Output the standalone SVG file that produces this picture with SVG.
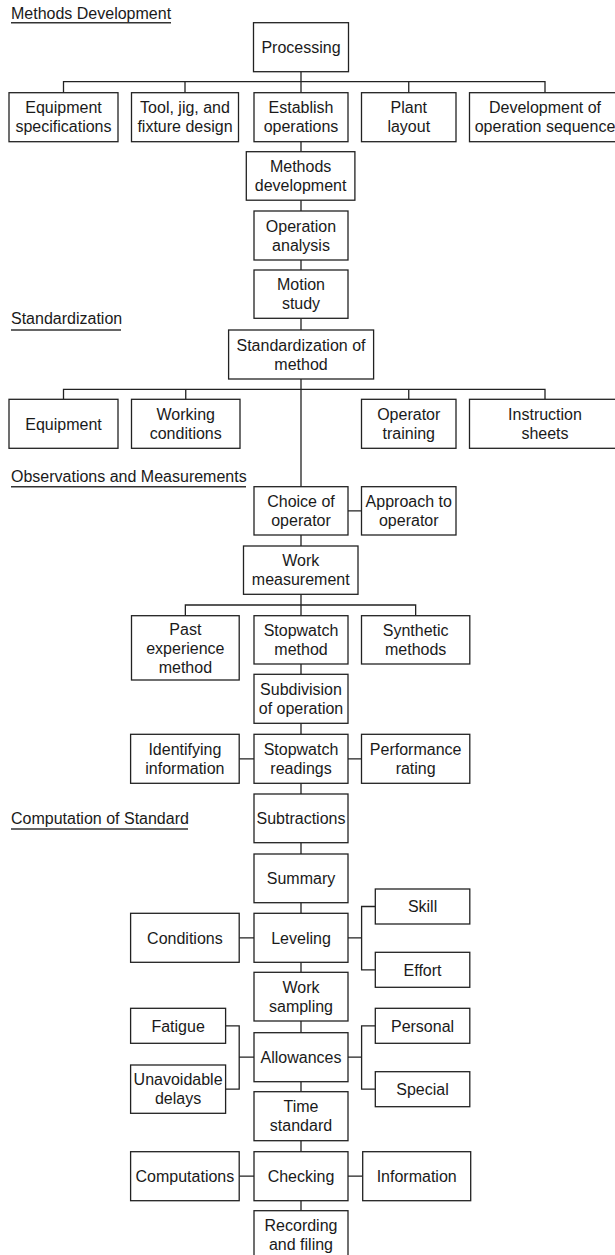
<svg xmlns="http://www.w3.org/2000/svg" width="615" height="1255" viewBox="0 0 615 1255">
<style>
.b{fill:#fff;stroke:#222;stroke-width:1.3}
.c{fill:none;stroke:#222;stroke-width:1.3}
.u{stroke:#333;stroke-width:1.4}
text{font-family:"Liberation Sans",Arial,Helvetica,sans-serif;font-size:16px;fill:#1a1a1a}
.t{text-anchor:middle}
</style>
<rect width="615" height="1255" fill="#fff"/>
<g id="section-titles">
<text x="11" y="19">Methods Development</text>
<line class="u" x1="11" y1="22.7" x2="171" y2="22.7"/>
<text x="11" y="324">Standardization</text>
<line class="u" x1="11" y1="330" x2="121" y2="330"/>
<text x="11" y="482">Observations and Measurements</text>
<line class="u" x1="11" y1="486.7" x2="246" y2="486.7"/>
<text x="11" y="824.3">Computation of Standard</text>
<line class="u" x1="11" y1="829" x2="188" y2="829"/>
</g>
<g id="connectors">
<path class="c" d="M301 71.7V92.7M63.5 92.7V81.7H545V92.7M185 81.7V92.7M408.75 81.7V92.7"/>
<path class="c" d="M301 141.7V151.7M301 200.2V211M301 260V270M301 318.3V330"/>
<path class="c" d="M301 379V486.7M63.5 399.3V389.3H545V399.3M185.75 389.3V399.3M408.75 389.3V399.3"/>
<path class="c" d="M348 510.8H361.5M301 535V546M301 594.3V615.7M185.35 615.7V605H415.65V615.7"/>
<path class="c" d="M301 664V674.3M301 723.3V734.3M239.2 758.8H254M348 758.8H361.5"/>
<path class="c" d="M301 783.3V794M301 842.7V854M301 902.7V913.3"/>
<path class="c" d="M239.2 937.8H254M348 937.8H361.6M375.3 906.5H361.6V969.8H375.3"/>
<path class="c" d="M301 962.3V972.3M301 1021V1032.7"/>
<path class="c" d="M225.6 1025.8H239.2V1089.2H225.6M239.2 1057.2H254M348 1057.2H361.6M375.3 1025.8H361.6V1089.2H375.3"/>
<path class="c" d="M301 1081.7V1091.7M301 1140.7V1151.7M239.2 1176.2H254M348 1176.2H362.7M301 1200.7V1210.7"/>
</g>
<g id="processing"><rect class="b" x="253.5" y="22.7" width="95" height="49"/><text class="t" x="301" y="53">Processing</text></g>
<g id="equipment-specifications"><rect class="b" x="9" y="92.7" width="109" height="49"/><text class="t" x="63.5" y="113.4">Equipment<tspan x="63.5" y="132.4">specifications</tspan></text></g>
<g id="tool-jig-fixture"><rect class="b" x="131.5" y="92.7" width="107" height="49"/><text class="t" x="185" y="113.4">Tool, jig, and<tspan x="185" y="132.4">fixture design</tspan></text></g>
<g id="establish-operations"><rect class="b" x="254" y="92.7" width="94" height="49"/><text class="t" x="301" y="113.4">Establish<tspan x="301" y="132.4">operations</tspan></text></g>
<g id="plant-layout"><rect class="b" x="361.5" y="92.7" width="94.5" height="49"/><text class="t" x="408.75" y="113.4">Plant<tspan x="408.75" y="132.4">layout</tspan></text></g>
<g id="development-operation-sequence"><rect class="b" x="469.5" y="92.7" width="151" height="49"/><text class="t" x="545" y="113.4">Development of<tspan x="545" y="132.4">operation sequence</tspan></text></g>
<g id="methods-development"><rect class="b" x="246.3" y="151.7" width="108.6" height="48.5"/><text class="t" x="300.6" y="172.2">Methods<tspan x="300.6" y="191.2">development</tspan></text></g>
<g id="operation-analysis"><rect class="b" x="254" y="211" width="94" height="49"/><text class="t" x="301" y="231.7">Operation<tspan x="301" y="250.7">analysis</tspan></text></g>
<g id="motion-study"><rect class="b" x="254" y="270" width="94" height="48.3"/><text class="t" x="301" y="290.4">Motion<tspan x="301" y="309.4">study</tspan></text></g>
<g id="standardization-of-method"><rect class="b" x="228.6" y="330" width="145" height="49"/><text class="t" x="301" y="350.7">Standardization of<tspan x="301" y="369.7">method</tspan></text></g>
<g id="equipment"><rect class="b" x="9" y="399.3" width="109" height="49"/><text class="t" x="63.5" y="429.5">Equipment</text></g>
<g id="working-conditions"><rect class="b" x="131.5" y="399.3" width="108.5" height="49"/><text class="t" x="185.75" y="420">Working<tspan x="185.75" y="439">conditions</tspan></text></g>
<g id="operator-training"><rect class="b" x="361.5" y="399.3" width="94.5" height="49"/><text class="t" x="408.75" y="420">Operator<tspan x="408.75" y="439">training</tspan></text></g>
<g id="instruction-sheets"><rect class="b" x="469.5" y="399.3" width="151" height="49"/><text class="t" x="545" y="420">Instruction<tspan x="545" y="439">sheets</tspan></text></g>
<g id="choice-of-operator"><rect class="b" x="254" y="486.7" width="94" height="48.3"/><text class="t" x="301" y="507.1">Choice of<tspan x="301" y="526.1">operator</tspan></text></g>
<g id="approach-to-operator"><rect class="b" x="361.5" y="486.7" width="94.5" height="48.3"/><text class="t" x="408.75" y="507.1">Approach to<tspan x="408.75" y="526.1">operator</tspan></text></g>
<g id="work-measurement"><rect class="b" x="243.5" y="546" width="114.5" height="48.3"/><text class="t" x="300.75" y="566.4">Work<tspan x="300.75" y="585.4">measurement</tspan></text></g>
<g id="past-experience-method"><rect class="b" x="131.5" y="615.7" width="107.7" height="64.3"/><text class="t" x="185.35" y="634.6">Past<tspan x="185.35" y="653.6">experience</tspan><tspan x="185.35" y="672.6">method</tspan></text></g>
<g id="stopwatch-method"><rect class="b" x="254" y="615.7" width="94" height="48.3"/><text class="t" x="301" y="636.1">Stopwatch<tspan x="301" y="655.1">method</tspan></text></g>
<g id="synthetic-methods"><rect class="b" x="361.5" y="615.7" width="108.3" height="48.3"/><text class="t" x="415.65" y="636.1">Synthetic<tspan x="415.65" y="655.1">methods</tspan></text></g>
<g id="subdivision-of-operation"><rect class="b" x="254" y="674.3" width="94" height="49"/><text class="t" x="301" y="695">Subdivision<tspan x="301" y="714">of operation</tspan></text></g>
<g id="identifying-information"><rect class="b" x="130.6" y="734.3" width="108.6" height="49"/><text class="t" x="184.9" y="755">Identifying<tspan x="184.9" y="774">information</tspan></text></g>
<g id="stopwatch-readings"><rect class="b" x="254" y="734.3" width="94" height="49"/><text class="t" x="301" y="755">Stopwatch<tspan x="301" y="774">readings</tspan></text></g>
<g id="performance-rating"><rect class="b" x="361.5" y="734.3" width="108.3" height="49"/><text class="t" x="415.65" y="755">Performance<tspan x="415.65" y="774">rating</tspan></text></g>
<g id="subtractions"><rect class="b" x="254" y="794" width="94" height="48.7"/><text class="t" x="301" y="824.1">Subtractions</text></g>
<g id="summary"><rect class="b" x="254" y="854" width="94" height="48.7"/><text class="t" x="301" y="884.1">Summary</text></g>
<g id="conditions"><rect class="b" x="130.6" y="913.3" width="108.6" height="49"/><text class="t" x="184.9" y="943.5">Conditions</text></g>
<g id="leveling"><rect class="b" x="254" y="913.3" width="94" height="49"/><text class="t" x="301" y="943.5">Leveling</text></g>
<g id="skill"><rect class="b" x="375.3" y="889" width="94.5" height="35"/><text class="t" x="422.55" y="912.2">Skill</text></g>
<g id="effort"><rect class="b" x="375.3" y="952.3" width="94.5" height="35"/><text class="t" x="422.55" y="975.5">Effort</text></g>
<g id="work-sampling"><rect class="b" x="254" y="972.3" width="94" height="48.7"/><text class="t" x="301" y="992.9">Work<tspan x="301" y="1011.9">sampling</tspan></text></g>
<g id="fatigue"><rect class="b" x="130.6" y="1008.3" width="95" height="35"/><text class="t" x="178.1" y="1031.5">Fatigue</text></g>
<g id="unavoidable-delays"><rect class="b" x="130.6" y="1065" width="95" height="48.3"/><text class="t" x="178.1" y="1085.4">Unavoidable<tspan x="178.1" y="1104.4">delays</tspan></text></g>
<g id="allowances"><rect class="b" x="254" y="1032.7" width="94" height="49"/><text class="t" x="301" y="1062.9">Allowances</text></g>
<g id="personal"><rect class="b" x="375.3" y="1008.3" width="94.5" height="35"/><text class="t" x="422.55" y="1031.5">Personal</text></g>
<g id="special"><rect class="b" x="375.3" y="1071.7" width="94.5" height="35"/><text class="t" x="422.55" y="1094.9">Special</text></g>
<g id="time-standard"><rect class="b" x="254" y="1091.7" width="94" height="49"/><text class="t" x="301" y="1112.4">Time<tspan x="301" y="1131.4">standard</tspan></text></g>
<g id="computations"><rect class="b" x="130.6" y="1151.7" width="108.6" height="49"/><text class="t" x="184.9" y="1181.9">Computations</text></g>
<g id="checking"><rect class="b" x="254" y="1151.7" width="94" height="49"/><text class="t" x="301" y="1181.9">Checking</text></g>
<g id="information"><rect class="b" x="362.7" y="1151.7" width="108" height="49"/><text class="t" x="416.7" y="1181.9">Information</text></g>
<g id="recording-and-filing"><rect class="b" x="254" y="1210.7" width="94" height="49"/><text class="t" x="301" y="1231.4">Recording<tspan x="301" y="1250.4">and filing</tspan></text></g>
</svg>
